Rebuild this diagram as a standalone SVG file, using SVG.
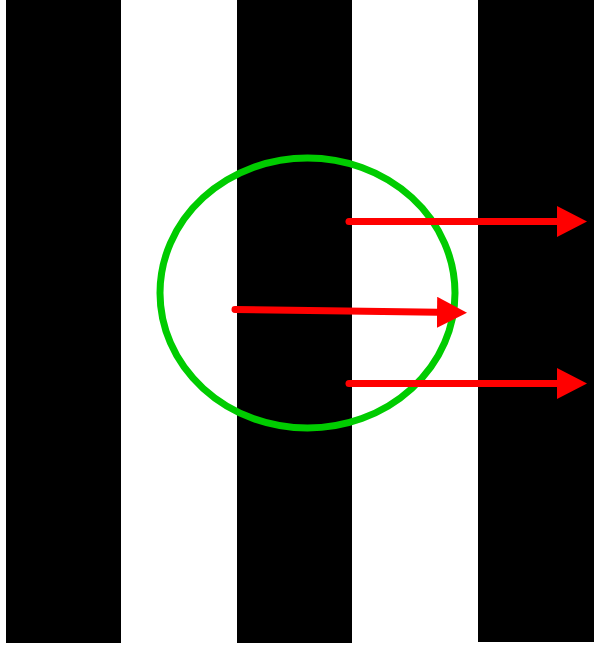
<svg xmlns="http://www.w3.org/2000/svg" width="594" height="645" viewBox="0 0 594 645">
<defs>
<style>
.stripe{fill:#000}
.arrow{stroke:#ff0000;stroke-width:7;stroke-linecap:round;fill:none}
</style>
<marker id="head" markerUnits="userSpaceOnUse" markerWidth="32" markerHeight="32" refX="1" refY="15.5" orient="auto" viewBox="0 0 32 32">
<path d="M0,0 L30,15.5 L0,31 Z" fill="#ff0000"/>
</marker>
</defs>
<rect width="594" height="645" fill="#fff"/>
<g id="stripes">
<rect class="stripe" x="6" y="0" width="115" height="643"/>
<rect class="stripe" x="237" y="0" width="115" height="643"/>
<rect class="stripe" x="478" y="0" width="116" height="642"/>
</g>
<g id="circle">
<ellipse cx="307.5" cy="293" rx="147.5" ry="135" fill="none" stroke="#00cc00" stroke-width="7"/>
</g>
<g id="connectors">
<line class="arrow" x1="349" y1="221.5" x2="558" y2="221.5" marker-end="url(#head)"/>
<line class="arrow" x1="235" y1="309.5" x2="438" y2="312.3" marker-end="url(#head)"/>
<line class="arrow" x1="349" y1="383.5" x2="558" y2="383.5" marker-end="url(#head)"/>
</g>
</svg>
